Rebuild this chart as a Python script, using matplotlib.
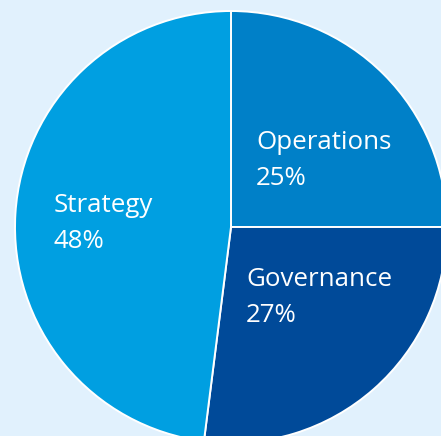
import matplotlib
matplotlib.use("Agg")
import matplotlib.pyplot as plt

categories = ["Operations", "Governance", "Strategy"]
values = [25, 27, 48]
colors = ["#0080c8", "#004a99", "#009fe1"]
bg = "#e1f1fd"

W, H = 441, 436
fig = plt.figure(figsize=(W / 100, H / 100), dpi=100, facecolor=bg)
ax = fig.add_axes([0, 0, 1, 1])
ax.set_facecolor(bg)

cx, cy, r = 231, H - 227, 216
ax.pie(values, colors=colors, startangle=90, counterclock=False,
       center=(cx, cy), radius=r,
       wedgeprops=dict(edgecolor="white", linewidth=1.4))
ax.set_xlim(0, W)
ax.set_ylim(0, H)
ax.set_aspect("equal")
ax.axis("off")

# label anchor positions (pixel coords from top-left), name baseline
label_pos = {"Operations": (256, 149), "Governance": (246, 286), "Strategy": (54, 212)}
font = dict(family="Open Sans", fontsize=18.6, color="white", va="baseline", ha="left")
for cat, val in zip(categories, values):
    x, y = label_pos[cat]
    ax.text(x, H - y, cat, **font)
    ax.text(x, H - y - 36, f"{val}%", **font)

fig.savefig("out.png", dpi=100, facecolor=bg)
